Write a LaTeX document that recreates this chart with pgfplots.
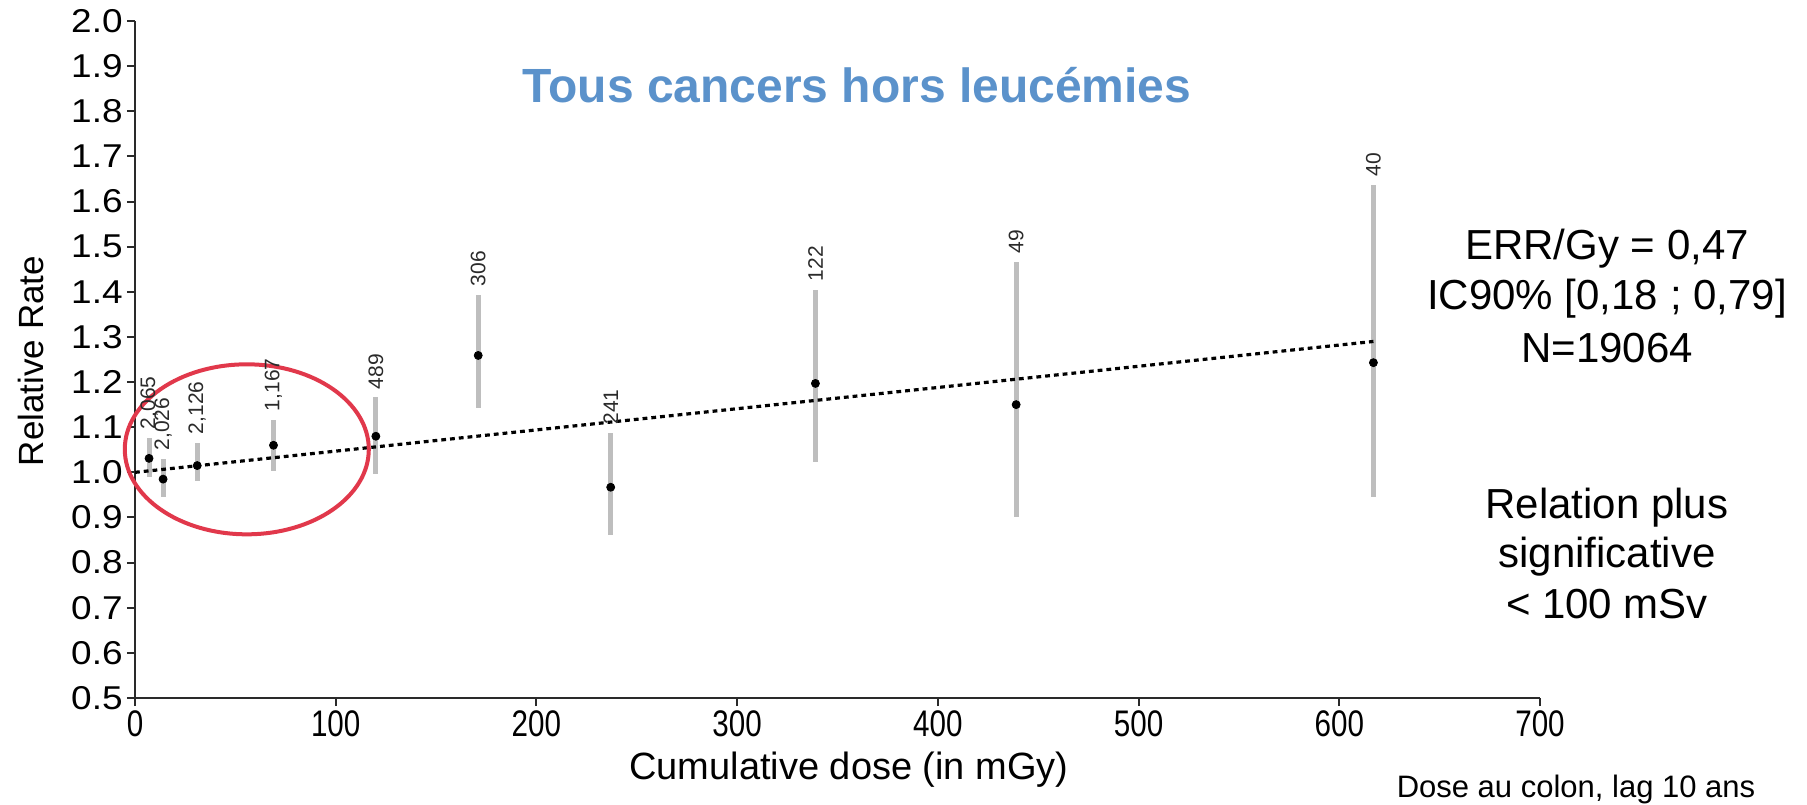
\documentclass[border=0pt]{standalone}
\usepackage{fontspec}
\setmainfont{Liberation Sans}
\usepackage{graphicx}
\usepackage{pgfplots}
\pgfplotsset{compat=1.18}
\usepackage{pgfplotstable}
\definecolor{titleblue}{HTML}{5B92CB}
\definecolor{ellred}{HTML}{E1384B}
\definecolor{bargray}{HTML}{BEBEBE}
\definecolor{axgray}{HTML}{2A2A2A}

\pgfplotstableread{
x rr lo hi lab
7 1.031 0.989 1.077 2,065
14 0.985 0.945 1.030 2,026
31 1.015 0.980 1.066 2,126
69 1.060 1.002 1.117 1,167
120 1.080 0.996 1.166 489
171 1.259 1.142 1.394 306
237 0.967 0.861 1.087 241
339 1.197 1.022 1.405 122
439 1.150 0.900 1.467 49
617 1.243 0.945 1.637 40
}\data

\begin{document}
\begin{tikzpicture}
\useasboundingbox (-67.5pt,-53pt) rectangle (836pt,349pt);
\begin{axis}[
  at={(0pt,0pt)}, anchor=south west,
  scale only axis, width=702.5pt, height=338.5pt,
  xmin=0, xmax=700, ymin=0.5, ymax=2.0,
  clip=false,
  axis x line*=bottom, axis y line*=left,
  axis line style={axgray, line width=1pt},
  tick style={axgray, line width=1pt},
  tick align=outside, major tick length=4pt,
  xtick={0,100,200,300,400,500,600,700},
  ytick={0.5,0.6,0.7,0.8,0.9,1.0,1.1,1.2,1.3,1.4,1.5,1.6,1.7,1.8,1.9,2.0},
  /pgf/number format/assume math mode=true,
  yticklabel={\scalebox{1.12}[1]{\pgfmathprintnumber[fixed,fixed zerofill,precision=1]{\tick}}},
  xticklabel={\scalebox{0.8}[1]{\pgfmathprintnumber{\tick}}},
  yticklabel style={font=\fontsize{16.5}{18}\selectfont, inner xsep=2pt},
  xticklabel style={font=\fontsize{18.5}{20}\selectfont, inner ysep=2pt},
]
% confidence intervals
\addplot[only marks, mark=none,
  error bars/.cd, y dir=both, y explicit, error mark=none,
  error bar style={line width=2.5pt, color=bargray}]
  table[x=x, y=rr,
        y error plus expr=\thisrow{hi}-\thisrow{rr},
        y error minus expr=\thisrow{rr}-\thisrow{lo}] {\data};
% case counts
\addplot[only marks, mark=none, nodes near coords, point meta=explicit symbolic,
  nodes near coords style={rotate=90, anchor=west, inner xsep=4pt, inner ysep=0pt,
    font=\fontsize{10.5}{12}\selectfont, text=axgray}]
  table[x=x, y=hi, meta=lab] {\data};
% fitted linear ERR line
\addplot[black, line width=1.6pt, dash pattern=on 2.4pt off 2pt]
  coordinates {(0,1.0) (617,1.29)};
% point estimates
\addplot[only marks, mark=square*, mark size=0.6pt, black,
  mark options={draw=none, fill=black}]
  table[x=x, y=rr] {\data};
% circled low-dose region
\draw[ellred, line width=2pt] (axis cs:55.7,1.051) ellipse [x radius=61pt, y radius=42.5pt];
\end{axis}
% titles and annotations
\node[font=\fontsize{24}{28}\selectfont\bfseries, text=titleblue] at (361pt,306.5pt) {Tous cancers hors leucémies};
\node[rotate=90, font=\fontsize{17.5}{20}\selectfont] at (-52pt,168.5pt) {Relative Rate};
\node[anchor=base, font=\fontsize{19}{22}\selectfont] at (357pt,-40.5pt) {Cumulative dose (in mGy)};
\begin{scope}[every node/.style={anchor=base, font=\fontsize{21}{24}\selectfont}]
\node at (736pt,219pt) {ERR/Gy = 0,47};
\node at (736pt,194pt) {IC90\% [0,18 ; 0,79]};
\node at (736pt,168pt) {N=19064};
\node at (736pt,90pt) {Relation plus};
\node at (736pt,65.5pt) {significative};
\node at (736pt,40pt) {< 100 mSv};
\end{scope}
\node[anchor=base, font=\fontsize{15.5}{18}\selectfont] at (720.5pt,-49.5pt) {Dose au colon, lag 10 ans};
\end{tikzpicture}
\end{document}
